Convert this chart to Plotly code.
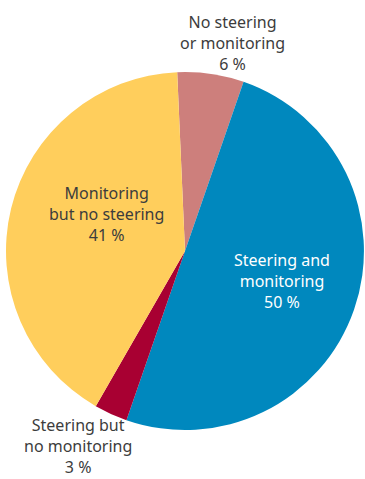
import plotly.graph_objects as go

# Shares of respondents by steering / monitoring practice
labels = [
    "No steering<br>or monitoring",
    "Steering and<br>monitoring",
    "Steering but<br>no monitoring",
    "Monitoring<br>but no steering",
]
values = [6, 50, 3, 41]
colors = ["#CD7F7C", "#0088BE", "#A80032", "#FFCE5C"]

# Label anchor positions (paper coords) and text colours
label_pos = [(0.636, 0.910), (0.772, 0.413), (0.213, 0.068), (0.293, 0.553)]
label_color = ["#3C3C3C", "#FFFFFF", "#3C3C3C", "#3C3C3C"]

W, H = 365, 479

fig = go.Figure(
    go.Pie(
        labels=labels,
        values=values,
        marker=dict(colors=colors, line=dict(width=0)),
        sort=False,
        direction="clockwise",
        rotation=-2.5,
        textinfo="none",
        hoverinfo="label+value",
        domain=dict(x=[(185 - 179) / W, (185 + 179) / W],
                    y=[1 - (251 + 179) / H, 1 - (251 - 179) / H]),
        showlegend=False,
    )
)

for lab, v, (x, y), c in zip(labels, values, label_pos, label_color):
    fig.add_annotation(
        x=x, y=y, xref="paper", yref="paper",
        text=f"{lab}<br>{v} %",
        showarrow=False,
        align="center",
        xanchor="center", yanchor="middle",
        borderpad=0,
        font=dict(family="Noto Sans", size=16, color=c),
    )

fig.update_layout(
    width=W, height=H,
    margin=dict(l=0, r=0, t=0, b=0),
    paper_bgcolor="white",
    plot_bgcolor="white",
)

fig.write_html("out.html")
